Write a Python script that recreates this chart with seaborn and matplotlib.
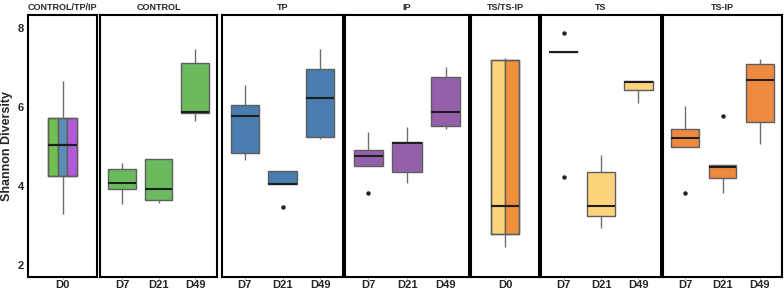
import numpy as np
import pandas as pd
import matplotlib
matplotlib.use("Agg")
import matplotlib.pyplot as plt
import seaborn as sns

sns.set_theme(style="white")
plt.rcParams["font.family"] = ["Liberation Sans", "DejaVu Sans"]

# ---------------- data ----------------
panel_titles = ["CONTROL/TP/IP", "CONTROL", "TP", "IP", "TS/TS-IP", "TS", "TS-IP"]
days_base = ["D0"]
days_late = ["D7", "D21", "D49"]
y_ticks = [2, 4, 6, 8]

# baseline D0 (shared)
d0_ctrl_tp_ip = [3.29, 4.25, 5.04, 5.74, 6.66]
d0_ts_tsip = [2.46, 2.80, 3.49, 7.19, 7.25]

control_d7 = [3.56, 3.93, 4.07, 4.43, 4.60]
control_d21 = [3.57, 3.64, 3.94, 4.68, 4.68]
control_d49 = [5.66, 5.86, 5.89, 7.13, 7.47]

tp_d7 = [4.67, 4.83, 5.78, 6.06, 6.56]
tp_d21 = [3.47, 4.05, 4.05, 4.38, 4.38]
tp_d49 = [5.19, 5.25, 6.23, 6.97, 7.49]

ip_d7 = [3.83, 4.51, 4.76, 4.92, 5.38]
ip_d21 = [4.07, 4.36, 5.10, 5.11, 5.50]
ip_d49 = [5.44, 5.53, 5.87, 6.78, 7.01]

ts_d7 = [4.24, 7.39, 7.39, 7.39, 7.88]
ts_d21 = [2.93, 3.25, 3.50, 4.37, 4.79]
ts_d49 = [6.11, 6.43, 6.65, 6.66, 6.66]

tsip_d7 = [3.83, 4.99, 5.22, 5.45, 6.03]
tsip_d21 = [3.82, 4.20, 4.48, 4.55, 5.78]
tsip_d49 = [5.08, 5.63, 6.69, 7.10, 7.23]

# ---------------- style ----------------
col_green = "#6BBA5E"
col_blue = "#4A7DAF"
col_purple = "#9460AC"
col_yellow = "#FDD47C"
col_orange = "#EE8A3F"
base1_colors = ["#72C04F", "#5B8DB5", "#B25BDA"]
base2_colors = ["#FDD47C", "#F0903A"]
edge = "#5E5E5E"
med_props = dict(color="#1E1E1E", linewidth=1.5)
whisk_props = dict(color="#6E6E6E", linewidth=1.0)
flier_props = dict(marker="o", markersize=2.2, markerfacecolor="#222222",
                   markeredgecolor="#222222")

W, H = 784, 289
fig = plt.figure(figsize=(W / 100, H / 100), dpi=100)
top_px, bot_px = 15, 277
panels_px = [(28, 97), (100, 217), (222, 343), (345, 469), (471, 539), (541, 661), (663, 782)]
axes = []
for x0, x1 in panels_px:
    ax = fig.add_axes([x0 / W, (H - bot_px) / H, (x1 - x0) / W, (bot_px - top_px) / H])
    axes.append(ax)


def late_panel(ax, d7, d21, d49, color):
    df = pd.DataFrame({
        "day": ["D7"] * len(d7) + ["D21"] * len(d21) + ["D49"] * len(d49),
        "shannon": d7 + d21 + d49,
    })
    sns.boxplot(data=df, x="day", y="shannon", hue="day", order=days_late,
                hue_order=days_late, palette=[color] * 3, width=0.75,
                saturation=1, linecolor=edge, linewidth=1.0, showcaps=False,
                medianprops=med_props, whiskerprops=whisk_props,
                flierprops=flier_props, legend=False, ax=ax)
    ax.set_xlim(-0.6, 2.6)


def base_panel(ax, vals, groups, colors):
    df = pd.DataFrame({
        "day": ["D0"] * (len(vals) * len(groups)),
        "group": [g for g in groups for _ in vals],
        "shannon": vals * len(groups),
    })
    sns.boxplot(data=df, x="day", y="shannon", hue="group", order=days_base,
                hue_order=groups, palette=colors, width=0.77, gap=0, dodge=True,
                saturation=1, whis=(25, 75), showfliers=False, showcaps=False,
                linecolor=edge, linewidth=1.0, medianprops=med_props,
                legend=False, ax=ax)
    sns.boxplot(data=df, x="day", y="shannon", order=days_base, width=0.77,
                fill=False, color=edge, linewidth=1.0, showcaps=False,
                medianprops=med_props, whiskerprops=whisk_props,
                flierprops=flier_props, ax=ax)
    ax.set_xlim(-0.92, 0.92)


base_panel(axes[0], d0_ctrl_tp_ip, ["CONTROL", "TP", "IP"], base1_colors)
late_panel(axes[1], control_d7, control_d21, control_d49, col_green)
late_panel(axes[2], tp_d7, tp_d21, tp_d49, col_blue)
late_panel(axes[3], ip_d7, ip_d21, ip_d49, col_purple)
base_panel(axes[4], d0_ts_tsip, ["TS", "TS-IP"], base2_colors)
late_panel(axes[5], ts_d7, ts_d21, ts_d49, col_yellow)
late_panel(axes[6], tsip_d7, tsip_d21, tsip_d49, col_orange)

for i, ax in enumerate(axes):
    ax.set_ylim(1.7, 8.34)
    ax.set_xlabel("")
    ax.set_ylabel("")
    for s in ax.spines.values():
        s.set_color("black")
        s.set_linewidth(1.5)
    ax.set_title(panel_titles[i], fontsize=6.5, fontweight="bold", pad=3.5)
    ax.tick_params(axis="x", length=1.5, width=0.6, color="#888888", pad=1.0,
                   labelsize=8, bottom=True)
    for lab in ax.get_xticklabels():
        lab.set_fontweight("bold")
    if i == 0:
        ax.set_yticks(y_ticks)
        ax.tick_params(axis="y", length=1.5, width=0.6, color="#888888", pad=1.5,
                       labelsize=8, left=True)
        for lab in ax.get_yticklabels():
            lab.set_fontweight("bold")
        ax.set_ylabel("Shannon Diversity", fontsize=9, fontweight="bold")
        ax.yaxis.set_label_coords(-0.22, 0.5)
    else:
        ax.set_yticks(y_ticks)
        ax.tick_params(axis="y", left=False, labelleft=False)

fig.savefig("out.png", dpi=100)
